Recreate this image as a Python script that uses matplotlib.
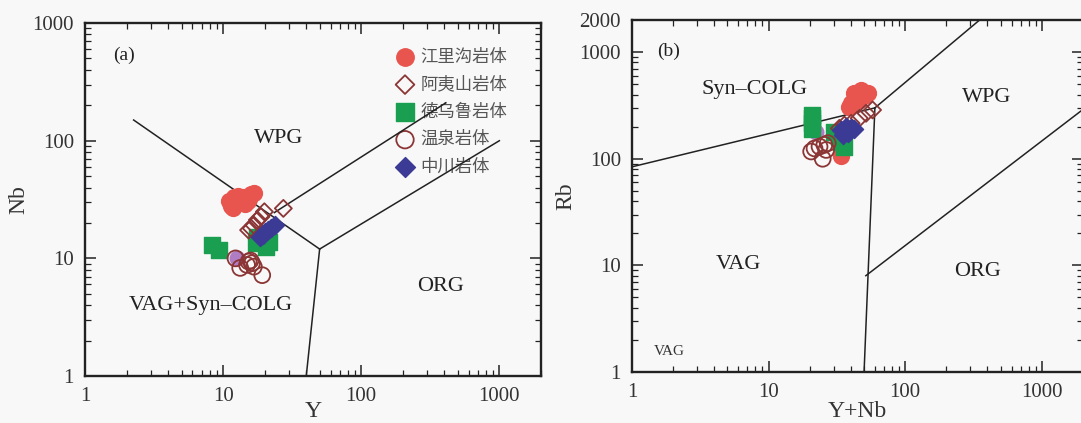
import matplotlib.pyplot as plt
import numpy as np

plt.rcParams['font.family'] = ['Liberation Serif', 'DejaVu Serif']
plt.rcParams['axes.linewidth'] = 1.7
plt.rcParams['xtick.direction'] = 'in'
plt.rcParams['ytick.direction'] = 'in'

BG = '#f8f8f8'
RED = '#e8554e'
GREEN = '#1a9e50'
BLUE = '#3b3b96'
BROWN = '#8b3535'
PURPLE = '#b07dc5'

series_names = ['江里沟岩体', '阿夷山岩体', '德乌鲁岩体', '温泉岩体', '中川岩体']

# ---- panel (a): Nb vs Y ----
a_jlg_y = [11.0, 11.5, 12.0, 12.5, 13.0, 13.8, 14.5, 15.2, 16.0, 16.8, 11.8, 12.8, 14.0, 15.5]
a_jlg_nb = [31, 28, 33, 29, 31, 30, 29, 31, 35, 36, 27, 34, 33, 32]
a_ays_y = [15.3, 16.0, 16.7, 17.7, 18.8, 19.9, 27.3]
a_ays_nb = [17.4, 18.0, 19.2, 21.2, 22.6, 24.9, 26.6]
a_dwl_y = [8.3, 9.3, 17.2, 17.6, 20.3, 21.4, 19.0]
a_dwl_nb = [13.0, 11.8, 13.4, 15.3, 12.6, 13.8, 14.0]
a_wq_y = [12.3, 13.3, 14.9, 15.3, 16.2, 16.7, 19.2, 15.8]
a_wq_nb = [10.0, 8.3, 8.8, 9.4, 9.1, 8.5, 7.2, 9.6]
a_zc_y = [18.4, 19.3, 20.2, 21.0, 22.2, 23.6]
a_zc_nb = [15.1, 15.8, 16.8, 17.4, 18.0, 19.2]
a_other_y = [12.6]
a_other_nb = [10.0]

# ---- panel (b): Rb vs Y+Nb ----
b_jlg_x = [42.4, 47.5, 53.1, 46.1, 40.2, 39.0, 44.0, 50.0, 34.0]
b_jlg_rb = [411, 442, 411, 356, 331, 308, 380, 390, 105]
b_ays_x = [33.0, 35.9, 40.2, 46.1, 51.7, 57.7]
b_ays_rb = [193, 207, 215, 240, 267, 287]
b_dwl_x = [20.8, 20.8, 20.8, 20.8, 30.3, 32.6, 35.9, 34.0]
b_dwl_rb = [190, 215, 240, 255, 180, 161, 130, 145]
b_wq_x = [20.5, 21.7, 23.6, 25.6, 24.9, 26.4, 27.1]
b_wq_rb = [117, 125, 130, 135, 100, 121, 140]
b_zc_x = [34.0, 36.9, 40.2, 37.9, 34.9, 42.0]
b_zc_rb = [186, 200, 193, 173, 167, 190]
b_other_x = [22.3]
b_other_rb = [180]

# discrimination boundaries (Pearce et al., 1984)
a_lines = [
    ([2.25, 50], [150, 12]),
    ([50, 40], [12, 1]),
    ([50, 1000], [12, 100]),
    ([23.5, 410], [24.5, 210]),
]
b_lines = [
    ([1, 60], [84, 300]),
    ([60, 350], [300, 2000]),
    ([60, 50], [300, 1]),
    ([51.5, 2000], [8, 290]),
]

fig = plt.figure(figsize=(10.81, 4.23), dpi=100, facecolor=BG)
ax1 = fig.add_axes([0.0786, 0.111, 0.4218, 0.8345])
ax2 = fig.add_axes([0.5846, 0.1206, 0.4172, 0.832])


def style_axis(ax, xlim, ylim, yticks):
    ax.set_facecolor(BG)
    ax.set_xscale('log')
    ax.set_yscale('log')
    ax.set_xlim(*xlim)
    ax.set_ylim(*ylim)
    ax.set_xticks([1, 10, 100, 1000])
    ax.set_xticklabels(['1', '10', '100', '1000'])
    ax.set_yticks(yticks)
    ax.set_yticklabels([str(t) for t in yticks])
    ax.tick_params(which='both', top=True, right=True, labelsize=15,
                   labelcolor='#333333', color='#222222')
    ax.tick_params(which='major', length=8, width=1.1)
    ax.tick_params(which='minor', length=4, width=0.9)
    ax.tick_params(axis='x', pad=8)
    ax.tick_params(axis='y', pad=8)
    for s in ax.spines.values():
        s.set_color('#222222')


def draw_points(ax, data, other, show_legend):
    (jx, jy), (ax_, ay), (dx, dy), (wx, wy), (zx, zy) = data
    ax.scatter(other[0], other[1], s=110, color=PURPLE, zorder=3)
    ax.scatter(jx, jy, s=130, color=RED, marker='o', label=series_names[0], zorder=4)
    ax.scatter(dx, dy, s=130, color=GREEN, marker='s', label=series_names[2], zorder=4)
    ax.scatter(wx, wy, s=130, facecolor='none', edgecolor=BROWN, linewidth=1.3,
               marker='o', label=series_names[3], zorder=5)
    ax.scatter(ax_, ay, s=75, facecolor='none', edgecolor=BROWN, linewidth=1.3,
               marker='D', label=series_names[1], zorder=5)
    ax.scatter(zx, zy, s=85, color=BLUE, marker='D', label=series_names[4], zorder=6)
    if show_legend:
        handles, labels = ax.get_legend_handles_labels()
        order = [labels.index(n) for n in series_names]
        leg = ax.legend([handles[i] for i in order], [labels[i] for i in order],
                        loc='upper left', bbox_to_anchor=(0.66, 0.955), frameon=False,
                        prop={'family': 'Noto Sans CJK SC', 'size': 12.5},
                        labelspacing=0.55, handletextpad=0.3, borderpad=0,
                        handlelength=1.2, labelcolor='#555555', markerscale=1.1)
        leg.set_zorder(1)


style_axis(ax1, (1, 2000), (1, 1000), [1, 10, 100, 1000])
for xs, ys in a_lines:
    ax1.plot(xs, ys, color='#222222', lw=1.1, zorder=2)
draw_points(ax1,
            [(a_jlg_y, a_jlg_nb), (a_ays_y, a_ays_nb), (a_dwl_y, a_dwl_nb),
             (a_wq_y, a_wq_nb), (a_zc_y, a_zc_nb)],
            (a_other_y, a_other_nb), True)
txt = dict(fontsize=16, color='#222222', ha='center', va='center')
ax1.text(25.2, 105, 'WPG', **txt)
ax1.text(8.1, 4.0, 'VAG+Syn–COLG', **txt)
ax1.text(378, 5.8, 'ORG', **txt)
ax1.text(1.92, 534, '(a)', fontsize=14, color='#222222', ha='center', va='center')
ax1.set_xlabel('Y', fontsize=17, color='#333333', labelpad=-4)
ax1.set_ylabel('Nb', fontsize=17, color='#333333', labelpad=2)

style_axis(ax2, (1, 2000), (1, 2000), [1, 10, 100, 1000, 2000])
for xs, ys in b_lines:
    ax2.plot(xs, ys, color='#222222', lw=1.1, zorder=2)
draw_points(ax2,
            [(b_jlg_x, b_jlg_rb), (b_ays_x, b_ays_rb), (b_dwl_x, b_dwl_rb),
             (b_wq_x, b_wq_rb), (b_zc_x, b_zc_rb)],
            (b_other_x, b_other_rb), False)
ax2.text(7.9, 442, 'Syn–COLG', **txt)
ax2.text(397, 372, 'WPG', **txt)
ax2.text(6.0, 10.1, 'VAG', **txt)
ax2.text(341, 8.7, 'ORG', **txt)
ax2.text(1.89, 1.54, 'VAG', fontsize=11, color='#333333', ha='center', va='center')
ax2.text(1.86, 1026, '(b)', fontsize=14, color='#222222', ha='center', va='center')
ax2.set_xlabel('Y+Nb', fontsize=17, color='#333333', labelpad=-1)
ax2.set_ylabel('Rb', fontsize=17, color='#333333', labelpad=2)

fig.savefig('out.png', dpi=100, facecolor=BG)
